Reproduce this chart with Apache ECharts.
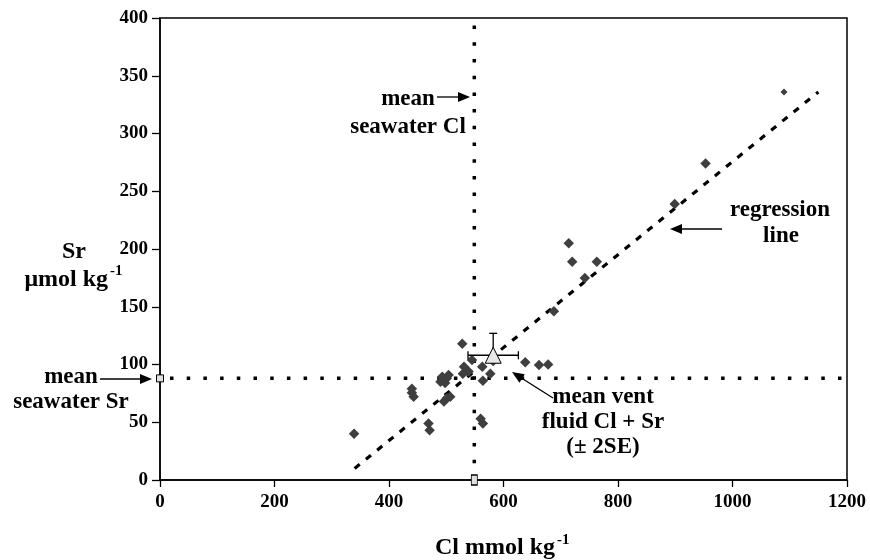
<!DOCTYPE html>
<html><head><meta charset="utf-8">
<script src="https://cdn.jsdelivr.net/npm/echarts@6/dist/echarts.min.js"></script>
<style>html,body{margin:0;padding:0;background:#fff}#c{width:870px;height:560px}</style>
</head><body><div id="c"></div>
<script>
// Data
var clValues = [1090, 953, 899, 714, 720, 763, 742, 688, 638, 662, 678, 528, 545, 531, 529, 539, 563, 582, 577, 564, 493, 501, 490, 498, 504, 501, 507, 496, 560, 564, 440, 443, 440, 469, 471, 339];
var srValues = [336, 274, 239, 205, 189, 189, 175, 146, 102, 99.6, 100, 118, 104, 98, 92, 94, 98, 103, 92, 86, 89.5, 88, 85, 84, 91, 70.7, 72, 68, 53, 49, 79, 72, 75.6, 49, 43, 40];
var seawaterCl = 549;
var seawaterSr = 88;
var ventMean = [582, 108];
var ventErr = [44, 19];
var regressionX = [340, 1150];
var regressionY = [10, 336];
var xTicks = [0, 1200, 200];
var yTicks = [0, 400, 50];

var FONT = 'Liberation Serif';
var pts = clValues.map(function (v, i) { return [v, srValues[i]]; });
var chart = echarts.init(document.getElementById('c'));

function txt(x, y, s, size, align) {
  return { type: 'text', x: x, y: y, style: { text: s, fill: '#000', font: 'bold ' + (size || 23) + 'px "' + FONT + '"', textAlign: align || 'center', textVerticalAlign: 'middle' } };
}
function arrow(x1, y1, x2, y2) {
  var a = Math.atan2(y2 - y1, x2 - x1), L = 12, W = 5;
  var bx = x2 - L * Math.cos(a), by = y2 - L * Math.sin(a);
  return [
    { type: 'line', shape: { x1: x1, y1: y1, x2: bx, y2: by }, style: { stroke: '#000', lineWidth: 1.3 } },
    { type: 'polygon', shape: { points: [[x2, y2], [bx - W * Math.sin(a), by + W * Math.cos(a)], [bx + W * Math.sin(a), by - W * Math.cos(a)]] }, style: { fill: '#000' } }
  ];
}

var graphics = [
  txt(408, 99, 'mean'), txt(408, 127, 'seawater Cl'),
  txt(780, 210, 'regression'), txt(781, 236, 'line'),
  txt(71, 377, 'mean'), txt(71, 402, 'seawater Sr'),
  txt(603, 397, 'mean vent'), txt(603, 422, 'fluid Cl + Sr'), txt(603, 447, '(\u00b1 2SE)'),
  txt(74, 252, 'Sr', 24), txt(108, 280, '\u03bcmol kg', 24, 'right'), txt(110, 271, '-1', 15, 'left'),
  txt(555, 548, 'Cl mmol kg', 24, 'right'), txt(557, 540, '-1', 15, 'left')
].concat(arrow(437, 97, 470, 97), arrow(722, 229, 670, 229), arrow(100, 379, 152, 379), arrow(553, 398, 512, 372));

var option = {
  animation: false,
  grid: { left: 160, right: 23, top: 18, bottom: 80, show: true, borderColor: '#000', borderWidth: 1.5, backgroundColor: 'transparent' },
  xAxis: {
    type: 'value', min: xTicks[0], max: xTicks[1], interval: xTicks[2],
    axisLine: { lineStyle: { color: '#000', width: 1.5 } }, splitLine: { show: false },
    axisTick: { inside: false, length: 7, lineStyle: { color: '#000', width: 1.3 } },
    axisLabel: { color: '#000', fontFamily: FONT, fontWeight: 'bold', fontSize: 19, margin: 13, formatter: function (v) { return String(v); } }
  },
  yAxis: {
    type: 'value', min: yTicks[0], max: yTicks[1], interval: yTicks[2],
    axisLine: { lineStyle: { color: '#000', width: 1.5 } }, splitLine: { show: false },
    axisTick: { inside: false, length: 8, lineStyle: { color: '#000', width: 1.3 } },
    axisLabel: { color: '#000', fontFamily: FONT, fontWeight: 'bold', fontSize: 19, margin: 12, formatter: function (v) { return String(v); } }
  },
  graphic: graphics,
  series: [
    { type: 'line', data: [[seawaterCl, yTicks[0]], [seawaterCl, yTicks[1]]], symbol: 'none', z: 2,
      lineStyle: { color: '#000', width: 3.5, type: [3.5, 13.2], cap: 'butt' } },
    { type: 'line', data: [[xTicks[0], seawaterSr], [xTicks[1], seawaterSr]], symbol: 'none', z: 2,
      lineStyle: { color: '#000', width: 3.5, type: [3.5, 13.2], cap: 'butt', dashOffset: -10 } },
    { type: 'line', data: [[regressionX[0], regressionY[0]], [regressionX[1], regressionY[1]]], symbol: 'none', z: 2,
      lineStyle: { color: '#000', width: 3.2, type: [6.5, 8], cap: 'butt' } },
    { type: 'scatter', data: pts, symbol: 'diamond', z: 4,
      symbolSize: function (v, p) { return p.dataIndex === 0 ? 7 : 10.5; },
      itemStyle: { color: '#3f3f3f', opacity: 1 } },
    { type: 'custom', z: 5, data: [[ventMean[0], ventMean[1], ventErr[0], ventErr[1]]],
      renderItem: function (params, api) {
        var x = api.value(0), y = api.value(1), ex = api.value(2), ey = api.value(3);
        var l = api.coord([x - ex, y]), r = api.coord([x + ex, y]), c = api.coord([x, y]), t = api.coord([x, y + ey]);
        var st = { stroke: '#000', lineWidth: 1.3 };
        return { type: 'group', children: [
          { type: 'line', shape: { x1: l[0], y1: l[1], x2: r[0], y2: r[1] }, style: st },
          { type: 'line', shape: { x1: l[0], y1: l[1] - 4, x2: l[0], y2: l[1] + 4 }, style: st },
          { type: 'line', shape: { x1: r[0], y1: r[1] - 4, x2: r[0], y2: r[1] + 4 }, style: st },
          { type: 'line', shape: { x1: c[0], y1: c[1], x2: t[0], y2: t[1] }, style: st },
          { type: 'line', shape: { x1: t[0] - 4, y1: t[1], x2: t[0] + 4, y2: t[1] }, style: st }
        ] };
      } },
    { type: 'scatter', z: 6, data: [ventMean], symbol: 'triangle', symbolSize: [16, 16],
      itemStyle: { color: '#e8e8e8', borderColor: '#000', borderWidth: 1, opacity: 1 } },
    { type: 'scatter', z: 7, clip: false, data: [[seawaterCl, yTicks[0]]], symbol: 'rect', symbolSize: [6, 10],
      itemStyle: { color: '#e0e0e0', borderColor: '#000', borderWidth: 1, opacity: 1 } },
    { type: 'scatter', z: 7, clip: false, data: [[xTicks[0], seawaterSr]], symbol: 'rect', symbolSize: [7, 7],
      itemStyle: { color: '#e0e0e0', borderColor: '#000', borderWidth: 1, opacity: 1 } }
  ]
};
chart.setOption(option);
</script></body></html>
